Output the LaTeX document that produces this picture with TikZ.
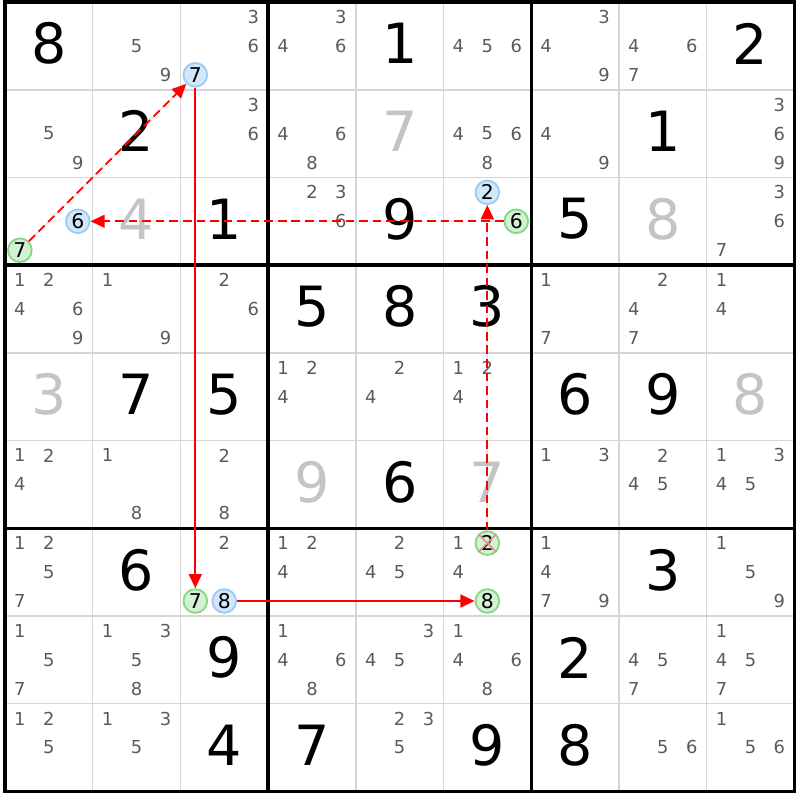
\documentclass[tikz,border=0pt]{standalone}
\usepackage{fontspec}
\setmainfont{DejaVu Sans}
\usetikzlibrary{arrows.meta}

\definecolor{candgray}{HTML}{5A5A5A}
\definecolor{solvedgray}{HTML}{C4C4C4}
\definecolor{gridgray}{HTML}{D6D6D6}
\definecolor{bluefill}{HTML}{D2E7FA}
\definecolor{blueline}{HTML}{9ECBF2}
\definecolor{greenfill}{HTML}{D4F1D4}
\definecolor{greenline}{HTML}{86D886}
\definecolor{crossred}{HTML}{F08A8A}
\definecolor{linkred}{HTML}{FF0000}

\begin{document}
\begin{tikzpicture}[x=1cm,y=-1cm,
    >={Triangle[length=4.6pt,width=4.2pt]},
    cellline/.style={line width=0.5pt, draw=gridgray},
    boxline/.style={line width=1.1pt},
    given/.style={font=\fontsize{18}{18}\selectfont, inner sep=0pt},
    solved/.style={given, text=solvedgray},
    cand/.style={font=\fontsize{5.8}{6}\selectfont, text=candgray, inner sep=0pt},
    bluecand/.style={circle, minimum size=0.27cm, inner sep=0pt, line width=0.6pt,
        draw=blueline, fill=bluefill, font=\fontsize{6.6}{7}\selectfont},
    greencand/.style={bluecand, draw=greenline, fill=greenfill},
    link/.style={draw=linkred, fill=linkred, line width=0.6pt},
    weaklink/.style={link, dash pattern=on 2.8pt off 1.6pt},
    strikeout/.style={draw=crossred, line width=0.5pt}]
    \useasboundingbox (-0.057,-0.023) rectangle (9.065,9.099);
    %\draw [help lines] (0,0) grid (9,9);

    % grid
    \foreach \i in {1,2,4,5,7,8} {
        \draw [cellline] (\i,0) -- (\i,9);
        \draw [cellline] (0,\i) -- (9,\i);
    }
    \foreach \i in {3,6} {
        \draw [boxline] (\i,0) -- (\i,9);
        \draw [boxline] (0,\i) -- (9,\i);
    }
    \draw [boxline] (0,0) rectangle (9,9);

    % givens and solved cells
    \foreach \row/\col/\v in {1/1/8,1/5/1,1/9/2,2/2/2,2/8/1,3/3/1,3/5/9,3/7/5,
        4/4/5,4/5/8,4/6/3,5/2/7,5/3/5,5/7/6,5/8/9,6/5/6,7/2/6,7/8/3,
        8/3/9,8/7/2,9/3/4,9/4/7,9/6/9,9/7/8}
        \node [given] (g-\row-\col) at (\col-0.5,\row-0.525) {\v};
    \foreach \row/\col/\v in {2/5/7,3/2/4,3/8/8,5/1/3,5/9/8,6/4/9,6/6/7}
        \node [solved] (s-\row-\col) at (\col-0.5,\row-0.525) {\v};

    % candidates
    \foreach \row/\col/\ds in {1/2/{5,9},1/3/{3,6},1/4/{3,4,6},1/6/{4,5,6},1/7/{3,4,9},1/8/{4,6,7},
        2/1/{5,9},2/3/{3,6},2/4/{4,6,8},2/6/{4,5,6,8},2/7/{4,9},2/9/{3,6,9},
        3/4/{2,3,6},3/9/{3,6,7},
        4/1/{1,2,4,6,9},4/2/{1,9},4/3/{2,6},4/7/{1,7},4/8/{2,4,7},4/9/{1,4},
        5/4/{1,2,4},5/5/{2,4},5/6/{1,2,4},
        6/1/{1,2,4},6/2/{1,8},6/3/{2,8},6/7/{1,3},6/8/{2,4,5},6/9/{1,3,4,5},
        7/1/{1,2,5,7},7/3/{2},7/4/{1,2,4},7/5/{2,4,5},7/6/{1,4},7/7/{1,4,7,9},7/9/{1,5,9},
        8/1/{1,5,7},8/2/{1,3,5,8},8/4/{1,4,6,8},8/5/{3,4,5},8/6/{1,4,6,8},8/8/{4,5,7},8/9/{1,4,5,7},
        9/1/{1,2,5},9/2/{1,3,5},9/5/{2,3,5},9/8/{5,6},9/9/{1,5,6}}
        \foreach \d in \ds
            \node [cand] (k-\row-\col-\d) at ({\col-0.83+0.33*mod(\d-1,3)},{\row-0.83+0.33*floor((\d-1)/3)}) {\d};

    % chain
    \node [bluecand] (r1c3n7) at (2.17,0.83) {7};
    \node [bluecand] (r3c1n6) at (0.83,2.5) {6};
    \node [greencand] (r3c1n7) at (0.17,2.83) {7};
    \node [bluecand] (r3c6n2) at (5.5,2.17) {2};
    \node [greencand] (r3c6n6) at (5.83,2.5) {6};
    \node [greencand] (r7c3n7) at (2.17,6.83) {7};
    \node [bluecand] (r7c3n8) at (2.5,6.83) {8};
    \node [greencand] (r7c6n2) at (5.5,6.17) {2};
    \node [greencand] (r7c6n8) at (5.5,6.83) {8};
    \draw [strikeout] (r7c6n2.north west) -- (r7c6n2.south east);
    \draw [strikeout] (r7c6n2.north east) -- (r7c6n2.south west);

    \draw [weaklink, ->] (r3c1n7) -- (r1c3n7);
    \draw [link, ->] (r1c3n7) -- (r7c3n7);
    \draw [link, ->] (r7c3n8) -- (r7c6n8);
    \draw [weaklink, ->] (r7c6n2) -- (r3c6n2);
    \draw [weaklink, ->] (r3c6n6) -- (r3c1n6);
\end{tikzpicture}
\end{document}
